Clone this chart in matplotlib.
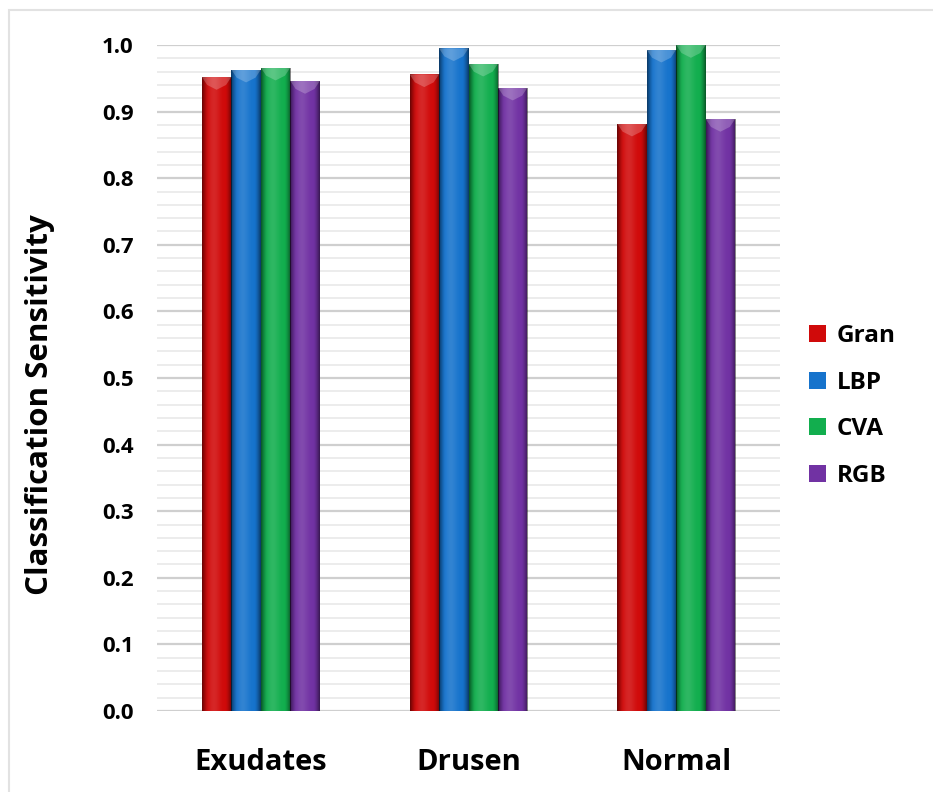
import numpy as np
import matplotlib
matplotlib.use("Agg")
import matplotlib.pyplot as plt
from matplotlib.patches import Patch, Polygon, Rectangle
from matplotlib.ticker import MultipleLocator

plt.rcParams['font.family'] = ['Open Sans', 'DejaVu Sans']

# Data
categories = ["Exudates", "Drusen", "Normal"]
series_names = ["Gran", "LBP", "CVA", "RGB"]
gran = [0.952, 0.956, 0.882]
lbp = [0.963, 0.995, 0.993]
cva = [0.966, 0.972, 1.000]
rgb = [0.946, 0.936, 0.889]
y_ticks = [0.0, 0.1, 0.2, 0.3, 0.4, 0.5, 0.6, 0.7, 0.8, 0.9, 1.0]

series_values = [gran, lbp, cva, rgb]
colors = ["#d00a0a", "#1673cc", "#12ae4e", "#7132a3"]

fig = plt.figure(figsize=(9.33, 7.92), dpi=100)
fig.patch.set_facecolor("white")

# thin light frame along the top and left edges
fig.add_artist(Rectangle((9 / 933, -0.1), 1.2, 1.1 - 10 / 792,
                         transform=fig.transFigure, fill=False,
                         edgecolor="#e2e2e2", linewidth=1.5))

ax = fig.add_axes([157 / 933, 1 - 711 / 792, 623 / 933, (711 - 45) / 792])

x = np.arange(len(categories)) + 0.5
bw = 0.142
offsets = (np.arange(len(series_names)) - 1.5) * bw

# horizontal shading that gives the bars a rounded look
n = 64
t = np.linspace(0, 1, n)
shade = np.zeros((1, n, 4))
edge = np.clip((np.abs(t - 0.5) - 0.28) / 0.22, 0, 1) ** 1.5
shade[0, :, 3] = 0.5 * edge
hl = np.zeros((1, n, 4))
hl[0, :, :3] = 1.0
hl[0, :, 3] = 0.12 * np.exp(-((t - 0.4) / 0.2) ** 2)

for vals, off, col, name in zip(series_values, offsets, colors, series_names):
    bars = ax.bar(x + off, vals, width=bw, color=col, edgecolor="none",
                  zorder=3, label=name, clip_on=False)
    for b in bars:
        x0, w, h = b.get_x(), b.get_width(), b.get_height()
        for img in (shade, hl):
            im = ax.imshow(img, extent=(x0, x0 + w, 0, h), aspect="auto",
                           zorder=4, interpolation="bilinear")
            im.set_clip_path(b)
        # bevelled cap on top of each bar
        d = 0.012
        cap = Polygon([(x0, h), (x0 + w, h), (x0 + w * 0.82, h - d),
                       (x0 + w * 0.5, h - d * 1.6), (x0 + w * 0.18, h - d)],
                      closed=True, facecolor="white", alpha=0.22,
                      edgecolor="none", zorder=5, clip_on=False)
        ax.add_patch(cap)

ax.set_xlim(0, len(categories))
ax.set_ylim(0, 1.0)

ax.yaxis.set_major_locator(MultipleLocator(0.1))
ax.yaxis.set_minor_locator(MultipleLocator(0.02))
ax.set_yticks(y_ticks)
ax.set_yticklabels([f"{v:.1f}" for v in y_ticks])
ax.grid(axis="y", which="major", color="#cfcfcf", linewidth=1.6, zorder=0)
ax.grid(axis="y", which="minor", color="#e9e9e9", linewidth=1.2, zorder=0)
ax.set_axisbelow(True)

ax.set_xticks(x)
ax.set_xticklabels(categories)
ax.tick_params(axis="both", which="both", length=0)
ax.tick_params(axis="y", pad=17, labelsize=16)
ax.tick_params(axis="x", pad=27, labelsize=21)
for lab in ax.get_xticklabels() + ax.get_yticklabels():
    lab.set_fontweight("bold")

for s in ax.spines.values():
    s.set_visible(False)

fig.text(40 / 933, 1 - 405 / 792, "Classification Sensitivity", rotation=90,
         ha="center", va="center", fontsize=22.5, fontweight="bold")

handles = [Patch(facecolor=c, edgecolor="none") for c in colors]
leg = fig.legend(handles, series_names, loc="center left",
                 bbox_to_anchor=(787 / 933, 1 - 406 / 792), frameon=False,
                 prop={"weight": "bold", "size": 17.5}, handlelength=0.7,
                 handleheight=0.7, handletextpad=0.45, labelspacing=0.92)

fig.savefig("out.png", dpi=100, facecolor="white")
